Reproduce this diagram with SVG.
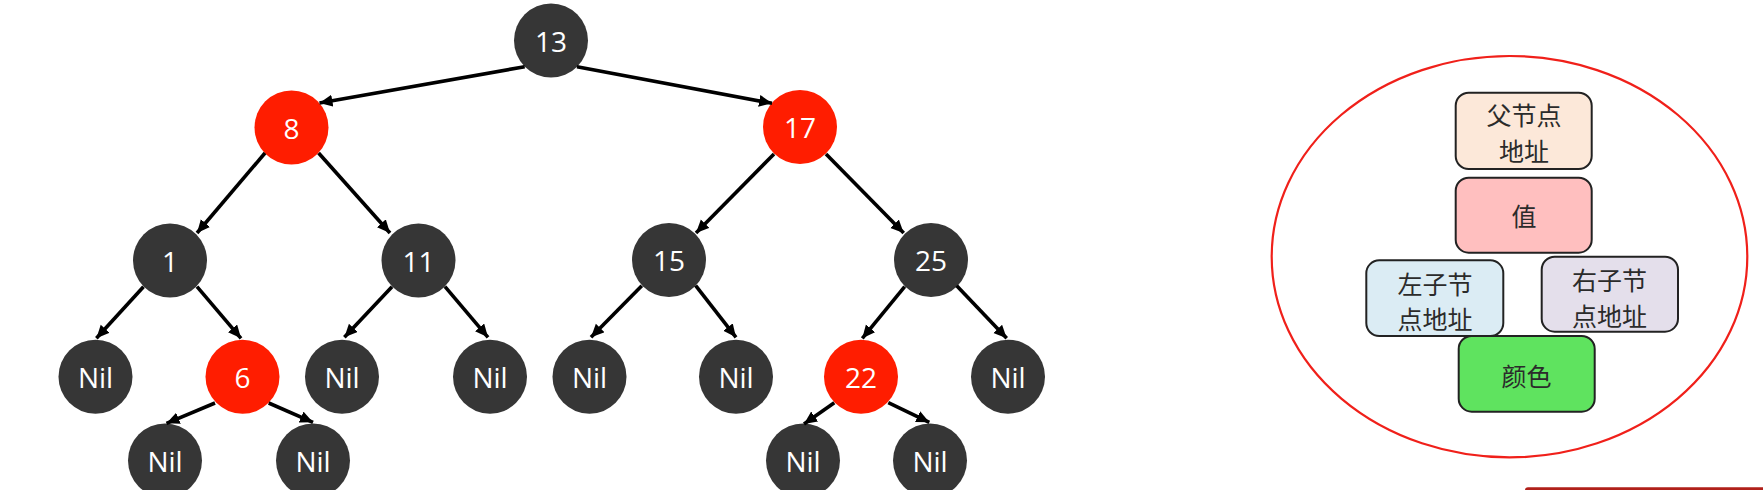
<svg xmlns="http://www.w3.org/2000/svg" width="1763" height="490" viewBox="0 0 1763 490">
<style>
.dark{fill:#363636}
.red{fill:#ff1d00}
.nt{font-family:"Open Sans","Noto Sans","Liberation Sans",sans-serif;font-size:28px;fill:#ffffff;text-anchor:middle;dominant-baseline:central}
.edge{stroke:#000;stroke-width:3.6;fill:none;marker-end:url(#ah)}
.box{stroke:#222;stroke-width:2}
.bt{font-family:"Noto Sans CJK SC","Noto Sans",sans-serif;font-size:25px;fill:#2b2b2b;text-anchor:middle;dominant-baseline:central}
</style>
<defs>
<marker id="ah" markerUnits="userSpaceOnUse" markerWidth="15" markerHeight="13" refX="13" refY="6" orient="auto">
<path d="M0,0 L13,6 L0,12 z" fill="#000"/>
</marker>
</defs>
<rect width="1763" height="490" fill="#fff"/>
<g id="n13"><circle class="dark" cx="551" cy="40.5" r="37"/><text class="nt" x="551" y="40.5">13</text></g>
<g id="n8"><circle class="red" cx="291.5" cy="127.5" r="37"/><text class="nt" x="291.5" y="127.5">8</text></g>
<g id="n17"><circle class="red" cx="800" cy="127" r="37"/><text class="nt" x="800" y="127">17</text></g>
<g id="n1"><circle class="dark" cx="170" cy="260.5" r="37"/><text class="nt" x="170" y="260.5">1</text></g>
<g id="n11"><circle class="dark" cx="418.5" cy="260.5" r="37"/><text class="nt" x="418.5" y="260.5">11</text></g>
<g id="n15"><circle class="dark" cx="669" cy="260" r="37"/><text class="nt" x="669" y="260">15</text></g>
<g id="n25"><circle class="dark" cx="931" cy="260" r="37"/><text class="nt" x="931" y="260">25</text></g>
<g id="nil1L"><circle class="dark" cx="95.5" cy="376.7" r="37"/><text class="nt" x="95.5" y="376.7">Nil</text></g>
<g id="n6"><circle class="red" cx="242.5" cy="376.7" r="37"/><text class="nt" x="242.5" y="376.7">6</text></g>
<g id="nil11L"><circle class="dark" cx="342" cy="376.7" r="37"/><text class="nt" x="342" y="376.7">Nil</text></g>
<g id="nil11R"><circle class="dark" cx="490" cy="376.7" r="37"/><text class="nt" x="490" y="376.7">Nil</text></g>
<g id="nil15L"><circle class="dark" cx="589.5" cy="376.7" r="37"/><text class="nt" x="589.5" y="376.7">Nil</text></g>
<g id="nil15R"><circle class="dark" cx="736" cy="376.7" r="37"/><text class="nt" x="736" y="376.7">Nil</text></g>
<g id="n22"><circle class="red" cx="861" cy="376.7" r="37"/><text class="nt" x="861" y="376.7">22</text></g>
<g id="nil25R"><circle class="dark" cx="1008" cy="376.7" r="37"/><text class="nt" x="1008" y="376.7">Nil</text></g>
<g id="nil6L"><circle class="dark" cx="165" cy="460.5" r="37"/><text class="nt" x="165" y="460.5">Nil</text></g>
<g id="nil6R"><circle class="dark" cx="313" cy="460.5" r="37"/><text class="nt" x="313" y="460.5">Nil</text></g>
<g id="nil22L"><circle class="dark" cx="803" cy="460.5" r="37"/><text class="nt" x="803" y="460.5">Nil</text></g>
<g id="nil22R"><circle class="dark" cx="930" cy="460.5" r="37"/><text class="nt" x="930" y="460.5">Nil</text></g>
<g id="connectors">
<line class="edge" x1="524.7" y1="66.7" x2="319.5" y2="103"/>
<line class="edge" x1="577" y1="66.7" x2="772" y2="103.3"/>
<line class="edge" x1="265" y1="153" x2="197" y2="233"/>
<line class="edge" x1="318.6" y1="153" x2="390" y2="233"/>
<line class="edge" x1="774" y1="154" x2="696" y2="233"/>
<line class="edge" x1="826" y1="154" x2="903.7" y2="233"/>
<line class="edge" x1="143.5" y1="286.7" x2="96.4" y2="338.3"/>
<line class="edge" x1="197" y1="286.7" x2="241" y2="338.3"/>
<line class="edge" x1="392" y1="286.7" x2="344.4" y2="337.3"/>
<line class="edge" x1="445" y1="286.7" x2="488" y2="337.3"/>
<line class="edge" x1="641.8" y1="285.7" x2="591" y2="337.3"/>
<line class="edge" x1="695.7" y1="285.7" x2="736" y2="337.3"/>
<line class="edge" x1="215" y1="403" x2="166.5" y2="423.3"/>
<line class="edge" x1="268.7" y1="403" x2="313" y2="422.3"/>
<line class="edge" x1="904.7" y1="286.7" x2="862.3" y2="338.3"/>
<line class="edge" x1="956.7" y1="285.7" x2="1006.7" y2="338.3"/>
<line class="edge" x1="834.3" y1="402.7" x2="804" y2="424"/>
<line class="edge" x1="888.3" y1="402.7" x2="929.3" y2="422.3"/>
</g>
<g id="structure">
<ellipse cx="1509.5" cy="256.7" rx="237.8" ry="200.7" fill="none" stroke="#f0201a" stroke-width="2.2"/>
</g>
<g id="parent"><rect class="box" x="1455.7" y="92.7" width="136" height="76.3" rx="13" fill="#fce8d9"/><text class="bt" x="1524" y="114">父节点</text><text class="bt" x="1524" y="149.5">地址</text></g>
<g id="value"><rect class="box" x="1455.7" y="177.7" width="136" height="75" rx="13" fill="#ffbfbf"/><text class="bt" x="1524" y="215">值</text></g>
<g id="left"><rect class="box" x="1366.3" y="260.3" width="137" height="75.7" rx="13" fill="#dbecf4"/><text class="bt" x="1435" y="282.5">左子节</text><text class="bt" x="1435" y="318">点地址</text></g>
<g id="right"><rect class="box" x="1541.7" y="256.7" width="136.3" height="75" rx="13" fill="#e4dfeb"/><text class="bt" x="1609.5" y="279">右子节</text><text class="bt" x="1609.5" y="314.5">点地址</text></g>
<g id="color"><rect class="box" x="1458.7" y="336" width="136" height="75.7" rx="13" fill="#5fe35f"/><text class="bt" x="1526.5" y="374.5">颜色</text></g>
<rect x="1525" y="487.3" width="245" height="6" rx="3" fill="#b0201a"/>
</svg>
